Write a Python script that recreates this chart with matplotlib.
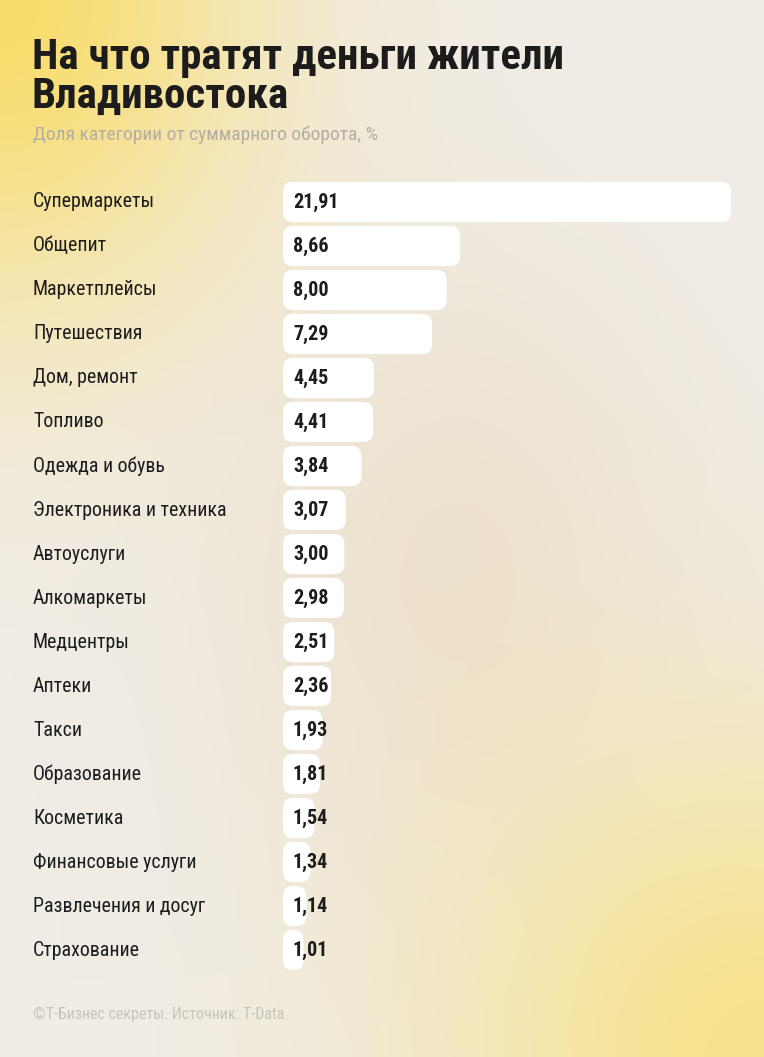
import numpy as np
import matplotlib
matplotlib.use('Agg')
import matplotlib.pyplot as plt
from matplotlib.patches import FancyBboxPatch
import matplotlib.transforms as mtransforms

# данные
categories = ['Супермаркеты', 'Общепит', 'Маркетплейсы', 'Путешествия', 'Дом, ремонт',
              'Топливо', 'Одежда и обувь', 'Электроника и техника', 'Автоуслуги',
              'Алкомаркеты', 'Медцентры', 'Аптеки', 'Такси', 'Образование',
              'Косметика', 'Финансовые услуги', 'Развлечения и досуг', 'Страхование']
values = [21.91, 8.66, 8.00, 7.29, 4.45, 4.41, 3.84, 3.07, 3.00,
          2.98, 2.51, 2.36, 1.93, 1.81, 1.54, 1.34, 1.14, 1.01]
value_labels = ['{:.2f}'.format(v).replace('.', ',') for v in values]

title = 'На что тратят деньги жители\nВладивостока'
subtitle = 'Доля категории от суммарного оборота, %'
footer = '©Т-Бизнес секреты. Источник: T-Data'

LABEL_FONT = ['Roboto Condensed', 'DejaVu Sans']

W, H = 764, 1057
fig = plt.figure(figsize=(W / 100, H / 100), dpi=100)

# фон-градиент (жёлтые углы, бежевая середина)
bg = fig.add_axes([0, 0, 1, 1])
yy, xx = np.mgrid[0:H, 0:W]
base = np.array([241, 237, 231]) / 255.0
yellow = np.array([249, 221, 108]) / 255.0
yellow2 = np.array([247, 226, 140]) / 255.0
mid = np.array([236, 224, 204]) / 255.0
d1 = np.sqrt((xx / W) ** 2 + (yy / H * 1.1) ** 2)
d2 = np.sqrt(((W - xx) / W) ** 2 + ((H - yy) / H * 1.4) ** 2)
d3 = np.sqrt(((xx - 0.6 * W) / W) ** 2 + ((yy - 0.55 * H) / H) ** 2)
w1 = np.exp(-(d1 / 0.33) ** 2)
w2 = np.exp(-(d2 / 0.42) ** 2)
w3 = 0.9 * np.exp(-(d3 / 0.3) ** 2)
img = base[None, None, :] * (1 - w3[..., None]) + mid[None, None, :] * w3[..., None]
img = img * (1 - w1[..., None]) + yellow[None, None, :] * w1[..., None]
img = img * (1 - w2[..., None]) + yellow2[None, None, :] * w2[..., None]
bg.imshow(img, aspect='auto', extent=[0, W, H, 0], interpolation='bilinear')
bg.set_xlim(0, W)
bg.set_ylim(H, 0)
bg.axis('off')

# заголовки
fig.text(32 / W, 1 - 37 / H, title, fontsize=31, fontweight='bold',
         family=LABEL_FONT, color='#1c1c1c',
         va='top', ha='left', linespacing=0.92)
fig.text(33 / W, 1 - 135 / H, subtitle, fontsize=14,
         family=LABEL_FONT, color='#b3aea4',
         va='center', ha='left')
fig.text(33 / W, 1 - 1014 / H, footer, fontsize=11.5,
         family=LABEL_FONT, color='#c8c4bc',
         va='center', ha='left')

# бары
x0, x1 = 283, 731
top, bottom = 180, 972
ax = fig.add_axes([x0 / W, 1 - bottom / H, (x1 - x0) / W, (bottom - top) / H])
ax.set_xlim(0, max(values))
ax.set_ylim(len(values) - 0.5, -0.5)
ax.axis('off')

xu = max(values) / (x1 - x0)
yu = len(values) / (bottom - top)
r = 10 * xu
for i, v in enumerate(values):
    p = FancyBboxPatch((0, i - 0.455), v, 0.91,
                       boxstyle='round,pad=0,rounding_size={}'.format(r),
                       mutation_aspect=yu / xu, facecolor='white',
                       edgecolor='none')
    ax.add_patch(p)
    ax.text(10 * xu, i, value_labels[i], fontsize=14.5, fontweight='bold',
            family=LABEL_FONT, color='#1c1c1c',
            va='center', ha='left')

trans = mtransforms.blended_transform_factory(fig.transFigure, ax.transData)
for i, c in enumerate(categories):
    ax.text(33 / W, i, c, transform=trans, fontsize=14.3,
            family=LABEL_FONT, color='#1c1c1c',
            va='center', ha='left')

fig.savefig('out.png', dpi=100)
